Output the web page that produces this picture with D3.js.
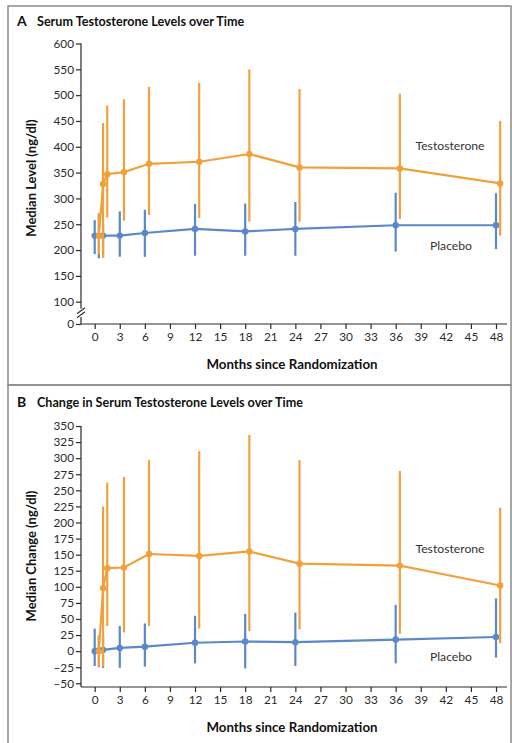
<!DOCTYPE html>
<html><head><meta charset="utf-8">
<script src="https://cdn.jsdelivr.net/npm/d3@7"></script>
<style>
html,body{margin:0;padding:0;background:#fff;}
svg{display:block;font-family:Lato,"Open Sans",sans-serif;}
</style></head>
<body><svg id="chart" width="512" height="743"></svg>
<script>
// ---- Data ----
const xTicks = [0,3,6,9,12,15,18,21,24,27,30,33,36,39,42,45,48];
const placeboMonths = [0,0.5,1,3,6,12,18,24,36,48];
const testoMonths = [0.5,1,1.5,3.5,6.5,12.5,18.5,24.5,36.5,48.5];

// Panel A: median level (ng/dl) with error bar low/high
const aYTicks = [0,100,150,200,250,300,350,400,450,500,550,600];
const aPlaceboMed  = [228,228,228,228,233,241,236,241,248,248];
const aPlaceboLow  = [192,184,186,187,187,189,189,189,197,202];
const aPlaceboHigh = [258,271,250,275,278,289,290,293,311,310];
const aTestoMed  = [228,328,347,351,367,371,386,360,358,329];
const aTestoLow  = [192,185,263,257,268,262,255,255,260,228];
const aTestoHigh = [271,446,480,492,516,524,550,512,503,450];

// Panel B: median change (ng/dl)
const bYTicks = [-50,-25,0,25,50,75,100,125,150,175,200,225,250,275,300,325,350];
const bPlaceboMed  = [0,1,2,5,7,13,15,14,18,22];
const bPlaceboLow  = [-23,-25,-26,-26,-24,-19,-27,-23,-19,-10];
const bPlaceboHigh = [35,24,25,39,43,55,58,60,72,82];
const bTestoMed  = [0,98,129,130,151,148,155,136,133,102];
const bTestoLow  = [-24,-24,39,29,39,35,31,34,27,12];
const bTestoHigh = [24,225,262,271,297,311,336,297,280,223];

const series = ["Testosterone","Placebo"];
const colors = {Testosterone:"#EFA23C", Placebo:"#5B88C9"};

// ---- Drawing ----
const svg = d3.select("#chart");
const ink = "#2a2a2a";

// frames
svg.append("rect").attr("x",8).attr("y",6).attr("width",503).attr("height",379)
  .attr("fill","none").attr("stroke","#8a8a8a").attr("stroke-width",1.5);
svg.append("rect").attr("x",8).attr("y",385).attr("width",503).attr("height",370)
  .attr("fill","none").attr("stroke","#8a8a8a").attr("stroke-width",1.5);

const x = d3.scaleLinear().domain([0,48]).range([94.7,496]);

function panel(cfg){
  const g = svg.append("g");
  // title
  const t = g.append("text").attr("x",17).attr("y",cfg.titleY)
    .attr("font-size",14).attr("font-weight",700).attr("fill","#111");
  t.append("tspan").text(cfg.letter);
  t.append("tspan").attr("x",37).attr("font-size",12.6).text(cfg.title);

  const y = cfg.y;
  // x axis
  const xAxisY = cfg.xAxisY;
  g.append("line").attr("x1",81).attr("x2",507).attr("y1",xAxisY).attr("y2",xAxisY)
    .attr("stroke",ink).attr("stroke-width",1.2);
  const xa = g.append("g").attr("transform",`translate(0,${xAxisY})`)
    .call(d3.axisBottom(x).tickValues(xTicks).tickSize(5).tickSizeOuter(0).tickPadding(4));
  xa.select(".domain").remove();
  xa.selectAll("line").attr("stroke",ink).attr("stroke-width",1.2);
  xa.selectAll("text").attr("font-size",11.8).attr("fill",ink).attr("font-family","Lato,sans-serif");
  g.append("text").attr("x",292).attr("y",xAxisY+45).attr("text-anchor","middle")
    .attr("font-size",13.3).attr("font-weight",700).attr("fill","#111").text("Months since Randomization");

  // y axis
  const ya = g.append("g").attr("transform","translate(81,0)")
    .call(d3.axisLeft(y).tickValues(cfg.yTicks).tickSize(5).tickSizeOuter(0).tickPadding(2));
  ya.select(".domain").remove();
  ya.selectAll("line").attr("stroke",ink).attr("stroke-width",1.2);
  ya.selectAll("text").attr("font-size",11.8).attr("fill",ink).attr("font-family","Lato,sans-serif");
  cfg.yAxisLine(g, y);

  g.append("text").attr("transform",`translate(36,${cfg.yLabelY}) rotate(-90)`)
    .attr("text-anchor","middle").attr("font-size",13).attr("font-weight",700).attr("fill","#111")
    .text(cfg.yLabel);

  const data = {
    Testosterone: testoMonths.map((m,i)=>({m,v:cfg.tMed[i],lo:cfg.tLow[i],hi:cfg.tHigh[i]})),
    Placebo: placeboMonths.map((m,i)=>({m,v:cfg.pMed[i],lo:cfg.pLow[i],hi:cfg.pHigh[i]}))
  };
  const line = d3.line().x(d=>x(d.m)).y(d=>y(d.v));
  ["Placebo","Testosterone"].forEach(s=>{
    const c = colors[s];
    const sg = g.append("g");
    sg.selectAll("line.err").data(data[s]).join("line").attr("class","err")
      .attr("x1",d=>x(d.m)).attr("x2",d=>x(d.m)).attr("y1",d=>y(d.lo)).attr("y2",d=>y(d.hi))
      .attr("stroke",c).attr("stroke-width",2.2);
    sg.append("path").datum(data[s]).attr("d",line).attr("fill","none")
      .attr("stroke",c).attr("stroke-width",2.2);
    sg.selectAll("circle").data(data[s]).join("circle")
      .attr("cx",d=>x(d.m)).attr("cy",d=>y(d.v)).attr("r",3.2).attr("fill",c);
  });
  // series labels
  g.append("text").attr("x",450).attr("y",cfg.tLabelY).attr("text-anchor","middle")
    .attr("font-size",12.2).attr("fill","#333").text(series[0]);
  g.append("text").attr("x",451).attr("y",cfg.pLabelY).attr("text-anchor","middle")
    .attr("font-size",12.2).attr("fill","#333").text(series[1]);
}

// Panel A (broken axis: 0 then 100..600)
const yA = d3.scaleLinear().domain([0,100,600]).range([324,301.7,43.5]);
panel({
  letter:"A", title:"Serum Testosterone Levels over Time", titleY:26,
  y:yA, yTicks:aYTicks, xAxisY:324, yLabel:"Median Level (ng/dl)", yLabelY:178,
  tMed:aTestoMed,tLow:aTestoLow,tHigh:aTestoHigh,pMed:aPlaceboMed,pLow:aPlaceboLow,pHigh:aPlaceboHigh,
  tLabelY:150, pLabelY:250,
  yAxisLine:(g,y)=>{
    g.append("line").attr("x1",81).attr("x2",81).attr("y1",y(600)).attr("y2",y(100)+7)
      .attr("stroke",ink).attr("stroke-width",1.2);
    g.append("line").attr("x1",81).attr("x2",81).attr("y1",y(0)-7).attr("y2",y(0))
      .attr("stroke",ink).attr("stroke-width",1.2);
    const by = y(100)+11;
    [-2,2].forEach(o=>{
      g.append("line").attr("x1",77).attr("x2",85).attr("y1",by+o+3).attr("y2",by+o-3)
        .attr("stroke",ink).attr("stroke-width",1.1);
    });
  }
});

// Panel B
const yB = d3.scaleLinear().domain([-50,350]).range([683.3,426]);
panel({
  letter:"B", title:"Change in Serum Testosterone Levels over Time", titleY:407,
  y:yB, yTicks:bYTicks, xAxisY:687, yLabel:"Median Change (ng/dl)", yLabelY:556,
  tMed:bTestoMed,tLow:bTestoLow,tHigh:bTestoHigh,pMed:bPlaceboMed,pLow:bPlaceboLow,pHigh:bPlaceboHigh,
  tLabelY:553, pLabelY:661,
  yAxisLine:(g,y)=>{
    g.append("line").attr("x1",81).attr("x2",81).attr("y1",y(350)).attr("y2",687)
      .attr("stroke",ink).attr("stroke-width",1.2);
  }
});
</script></body></html>
